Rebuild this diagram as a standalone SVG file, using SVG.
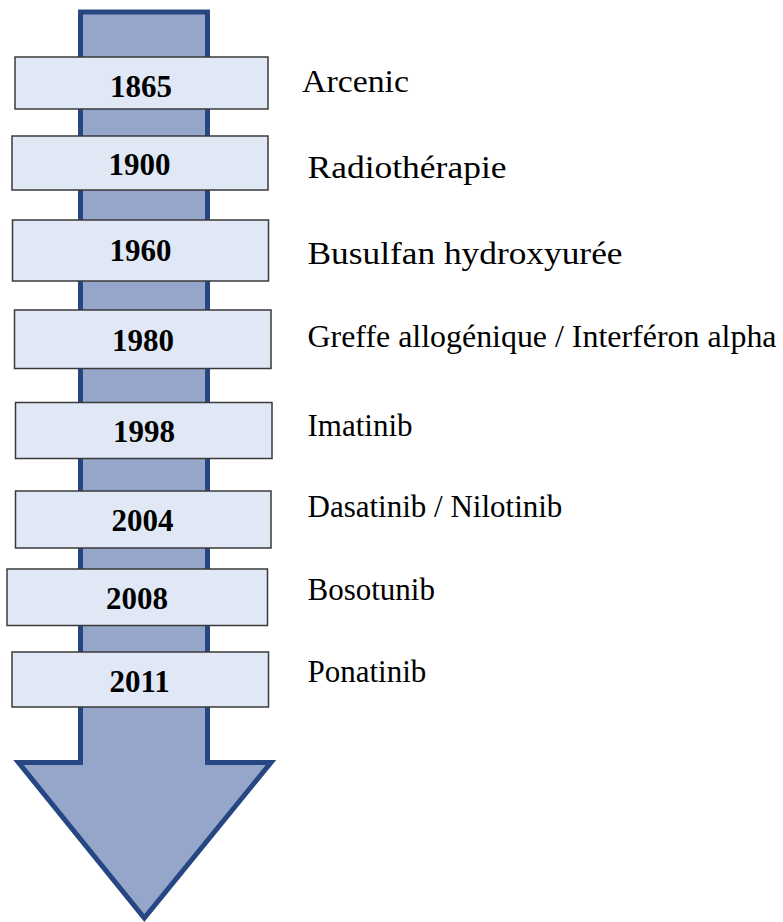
<svg xmlns="http://www.w3.org/2000/svg" width="783" height="922" viewBox="0 0 783 922">
  <style>
    .arrow { fill: #95a6ca; stroke: #264781; stroke-width: 5; stroke-linejoin: miter; stroke-miterlimit: 10; }
    .box { fill: #e1e8f5; stroke: #3a3a3a; stroke-width: 1.5; }
    .year { font-family: "Liberation Serif", "Times New Roman", serif; font-weight: bold; font-size: 31px; fill: #000; text-anchor: middle; }
    .label { font-family: "Liberation Serif", "Times New Roman", serif; font-size: 31px; fill: #000; }
    .label-lg { font-family: "Liberation Serif", "Times New Roman", serif; font-size: 32px; fill: #000; }
  </style>
  <rect width="783" height="922" fill="#ffffff"/>

  <!-- timeline arrow running down behind the year boxes -->
  <g id="connectors">
    <polygon class="arrow" points="80.5,12 207.5,12 207.5,762.5 271,762.5 144.3,918 18.5,762.5 80.5,762.5"/>
  </g>

  <g id="y1865">
    <rect class="box" x="15" y="57" width="253" height="52"/>
    <text class="year" x="141" y="97">1865</text>
    <text class="label-lg" x="302" y="92" textLength="107" lengthAdjust="spacingAndGlyphs">Arcenic</text>
  </g>
  <g id="y1900">
    <rect class="box" x="12" y="136" width="256" height="54"/>
    <text class="year" x="139.5" y="175">1900</text>
    <text class="label-lg" x="307.5" y="178" textLength="199" lengthAdjust="spacingAndGlyphs">Radiothérapie</text>
  </g>
  <g id="y1960">
    <rect class="box" x="12.5" y="220" width="256" height="61"/>
    <text class="year" x="140.5" y="261">1960</text>
    <text class="label-lg" x="307.5" y="264" textLength="315" lengthAdjust="spacingAndGlyphs">Busulfan hydroxyurée</text>
  </g>
  <g id="y1980">
    <rect class="box" x="14.5" y="310" width="256.5" height="58.5"/>
    <text class="year" x="143" y="351">1980</text>
    <text class="label-lg" x="307.5" y="347" textLength="469" lengthAdjust="spacingAndGlyphs">Greffe allogénique / Interféron alpha</text>
  </g>
  <g id="y1998">
    <rect class="box" x="15.5" y="402.5" width="256.5" height="56"/>
    <text class="year" x="144" y="442">1998</text>
    <text class="label" x="307.5" y="435.5">Imatinib</text>
  </g>
  <g id="y2004">
    <rect class="box" x="15.5" y="491" width="255.5" height="57"/>
    <text class="year" x="142.5" y="531">2004</text>
    <text class="label" x="307.5" y="516.5">Dasatinib / Nilotinib</text>
  </g>
  <g id="y2008">
    <rect class="box" x="7" y="569" width="260.5" height="56.5"/>
    <text class="year" x="137" y="608.5">2008</text>
    <text class="label" x="307.5" y="600">Bosotunib</text>
  </g>
  <g id="y2011">
    <rect class="box" x="12" y="652" width="256.5" height="55"/>
    <text class="year" x="139.7" y="691.5">2011</text>
    <text class="label" x="307.5" y="681.5">Ponatinib</text>
  </g>
</svg>
